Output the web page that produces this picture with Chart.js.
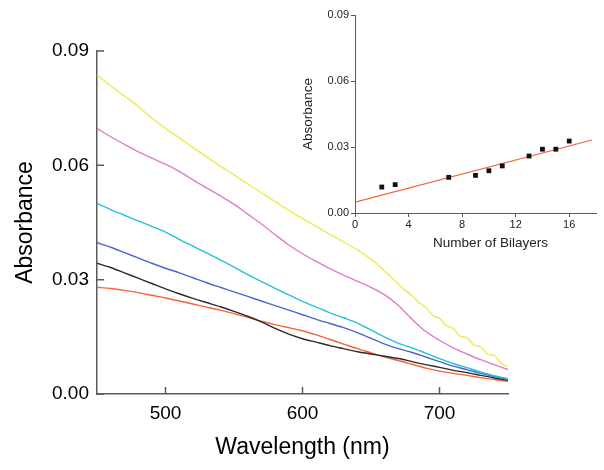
<!DOCTYPE html>
<html>
<head>
<meta charset="utf-8">
<script src="https://cdn.jsdelivr.net/npm/chart.js@4.4.1/dist/chart.umd.min.js"></script>
<style>
  html, body { margin: 0; padding: 0; background: #fff; }
  #wrap { position: relative; width: 604px; height: 470px; }
  #mainChart { position: absolute; left: 0; top: 0; }
  #insetChart { position: absolute; left: 295px; top: 0; }
</style>
</head>
<body>
<div id="wrap">
  <canvas id="mainChart" width="604" height="470"></canvas>
  <canvas id="insetChart" width="309" height="255"></canvas>
</div>
<script>
'use strict';

// ─── Data: absorbance spectra ────────────────────────────────
const WAVELENGTHS = [450, 460, 470, 480, 490, 500, 510, 520, 530, 540, 550, 560, 570, 580, 590, 600,
                     610, 620, 630, 640, 650, 660, 670, 680, 690, 700, 710, 720, 730, 740, 750];

const PINK_ABS  = [.0697, .0675, .0655, .0636, .0619, .0603, .0584, .0562, .0541, .0520, .0498, .0472, .0446, .0418, .0391, .0368,
                   .0348, .0329, .0312, .0296, .0280, .0260, .0232, .0196, .0164, .0141, .0121, .0105, .0090, .0077, .0064];
const CYAN_ABS  = [.0500, .0484, .0469, .0454, .0440, .0425, .0406, .0388, .0370, .0352, .0333, .0313, .0295, .0277, .0260, .0243,
                   .0228, .0213, .0200, .0186, .0168, .0149, .0133, .0121, .0107, .0093, .0080, .0069, .0058, .0048, .0040];
const BLUE_ABS  = [.0397, .0385, .0371, .0357, .0343, .0330, .0318, .0305, .0292, .0280, .0268, .0256, .0244, .0232, .0220, .0208,
                   .0196, .0185, .0174, .0161, .0146, .0131, .0119, .0109, .0097, .0085, .0073, .0064, .0054, .0046, .0039];
const BLACK_ABS = [.0343, .0332, .0318, .0304, .0290, .0276, .0263, .0251, .0240, .0229, .0217, .0204, .0189, .0172, .0157, .0145,
                   .0136, .0127, .0119, .0111, .0105, .0099, .0093, .0085, .0077, .0070, .0062, .0056, .0049, .0042, .0036];
const RED_ABS   = [.0280, .0277, .0272, .0266, .0259, .0252, .0244, .0236, .0228, .0220, .0211, .0201, .0191, .0182, .0174, .0166,
                   .0155, .0143, .0131, .0119, .0108, .0097, .0088, .0078, .0068, .0060, .0054, .0049, .0043, .0038, .0033];

// yellow one is wavy past 650 nm, so it gets its own finer grid
const YELLOW_WL  = [450, 460, 470, 480, 490, 500, 510, 520, 530, 540, 550, 560, 570, 580, 590, 600, 610, 620, 630, 640, 650,
                    655, 660, 665, 670, 675, 680, 685, 690, 695, 700, 705, 710, 715, 720, 725, 730, 735, 740, 745, 750];
const YELLOW_ABS = [.0837, .0809, .0782, .0755, .0724, .0697, .0672, .0647, .0622, .0598, .0575, .0551, .0528, .0505, .0482, .0460,
                    .0440, .0419, .0399, .0378, .0354, .0339, .0322, .0305, .0288, .0272, .0258, .0240, .0227, .0206, .0199,
                    .0179, .0172, .0151, .0148, .0129, .0124, .0105, .0101, .0081, .0072];

const X_TICKS = [500, 600, 700];
const Y_TICKS = [0, 0.03, 0.06, 0.09];

// ─── Data: inset (absorbance vs bilayers) ────────────────────
const BILAYERS    = [2, 3, 7, 9, 10, 11, 13, 14, 15, 16];
const BILAYER_ABS = [0.0118, 0.0129, 0.0162, 0.0171, 0.0192, 0.0214, 0.0259, 0.0290, 0.0290, 0.0327];
const FIT_X = [0, 17.7];
const FIT_Y = [0.0049, 0.0332];
const INSET_X_TICKS = [0, 4, 8, 12, 16];
const INSET_Y_TICKS = [0, 0.03, 0.06, 0.09];

const FONT = '"Liberation Sans", Arial, Helvetica, sans-serif';
const AXIS_COLOR = '#5a5a5a';
const TEXT_COLOR = '#000';

const toXY = (xs, ys) => xs.map((x, i) => ({ x, y: ys[i] }));
const fixedTicks = vals => scale => { scale.ticks = vals.map(v => ({ value: v })); };

// ticks in the main plot point inward
const inwardTicks = {
    id: 'inwardTicks',
    afterDraw(chart) {
        const { ctx, chartArea, scales } = chart;
        ctx.save();
        ctx.strokeStyle = AXIS_COLOR;
        ctx.lineWidth = 1.5;
        ctx.beginPath();
        scales.x.ticks.forEach(t => {
            const px = scales.x.getPixelForValue(t.value);
            ctx.moveTo(px, chartArea.bottom);
            ctx.lineTo(px, chartArea.bottom - 7);
        });
        scales.y.ticks.forEach(t => {
            const py = scales.y.getPixelForValue(t.value);
            ctx.moveTo(chartArea.left, py);
            ctx.lineTo(chartArea.left + 7, py);
        });
        ctx.stroke();
        ctx.restore();
    }
};

function spectrum(xs, ys, color) {
    return {
        data: toXY(xs, ys),
        borderColor: color,
        borderWidth: 1.4,
        pointRadius: 0,
        tension: 0.3,
        fill: false
    };
}

// ─── Main chart ──────────────────────────────────────────────
new Chart(document.getElementById('mainChart'), {
    type: 'line',
    data: {
        datasets: [
            spectrum(YELLOW_WL, YELLOW_ABS, '#EEEA52'),
            spectrum(WAVELENGTHS, PINK_ABS, '#DD7DC9'),
            spectrum(WAVELENGTHS, CYAN_ABS, '#25C1D9'),
            spectrum(WAVELENGTHS, BLUE_ABS, '#4A66CC'),
            spectrum(WAVELENGTHS, BLACK_ABS, '#2b2b2b'),
            spectrum(WAVELENGTHS, RED_ABS, '#F4633A')
        ]
    },
    options: {
        responsive: false,
        animation: false,
        layout: { padding: { left: 0, top: 51, right: 96, bottom: 0 } },
        plugins: { legend: { display: false }, tooltip: { enabled: false } },
        scales: {
            x: {
                type: 'linear', min: 450, max: 750,
                afterBuildTicks: fixedTicks(X_TICKS),
                afterFit: s => { s.height = 76; },
                grid: { display: false, drawTicks: false },
                border: { color: AXIS_COLOR, width: 1.5 },
                ticks: { padding: 8, color: TEXT_COLOR, font: { family: FONT, size: 19 } },
                title: {
                    display: true, text: 'Wavelength (nm)', color: TEXT_COLOR,
                    font: { family: FONT, size: 23 }, padding: { top: 0, bottom: 9 }
                }
            },
            y: {
                type: 'linear', min: 0, max: 0.09,
                afterBuildTicks: fixedTicks(Y_TICKS),
                afterFit: s => { s.width = 97; },
                grid: { display: false, drawTicks: false },
                border: { color: AXIS_COLOR, width: 1.5 },
                ticks: {
                    padding: 8, color: TEXT_COLOR, font: { family: FONT, size: 19 },
                    callback: v => v.toFixed(2)
                },
                title: {
                    display: true, text: 'Absorbance', color: TEXT_COLOR,
                    font: { family: FONT, size: 23 }, padding: { top: 12, bottom: 0 }
                }
            }
        }
    },
    plugins: [inwardTicks]
});

// ─── Inset chart ─────────────────────────────────────────────
new Chart(document.getElementById('insetChart'), {
    type: 'scatter',
    data: {
        datasets: [
            {
                data: toXY(BILAYERS, BILAYER_ABS),
                pointStyle: 'rect',
                pointRadius: 3.4,
                backgroundColor: '#111',
                borderColor: '#111',
                borderWidth: 0
            },
            {
                type: 'line',
                data: toXY(FIT_X, FIT_Y),
                borderColor: '#F4633A',
                borderWidth: 1.2,
                pointRadius: 0,
                fill: false
            }
        ]
    },
    options: {
        responsive: false,
        animation: false,
        layout: { padding: { left: 0, top: 15, right: 8, bottom: 0 } },
        plugins: { legend: { display: false }, tooltip: { enabled: false } },
        scales: {
            x: {
                type: 'linear', min: 0, max: 18,
                afterBuildTicks: fixedTicks(INSET_X_TICKS),
                afterFit: s => { s.height = 42; },
                grid: { drawOnChartArea: false, tickLength: 4, color: AXIS_COLOR },
                border: { color: AXIS_COLOR, width: 1 },
                ticks: { padding: 1, color: '#222', font: { family: FONT, size: 11 } },
                title: {
                    // title sits a bit right of the axis centre in the original
                    display: true, text: '        Number of Bilayers', color: '#222',
                    font: { family: FONT, size: 13.5 }, padding: { top: 0, bottom: 4 }
                }
            },
            y: {
                type: 'linear', min: 0, max: 0.09,
                afterBuildTicks: fixedTicks(INSET_Y_TICKS),
                afterFit: s => { s.width = 60; },
                grid: { drawOnChartArea: false, tickLength: 4, color: AXIS_COLOR },
                border: { color: AXIS_COLOR, width: 1 },
                ticks: {
                    padding: 2, color: '#222', font: { family: FONT, size: 11 },
                    callback: v => v.toFixed(2)
                },
                title: {
                    display: true, text: 'Absorbance', color: '#222',
                    font: { family: FONT, size: 13.5 }, padding: { top: 5, bottom: 0 }
                }
            }
        }
    }
});
</script>
</body>
</html>
